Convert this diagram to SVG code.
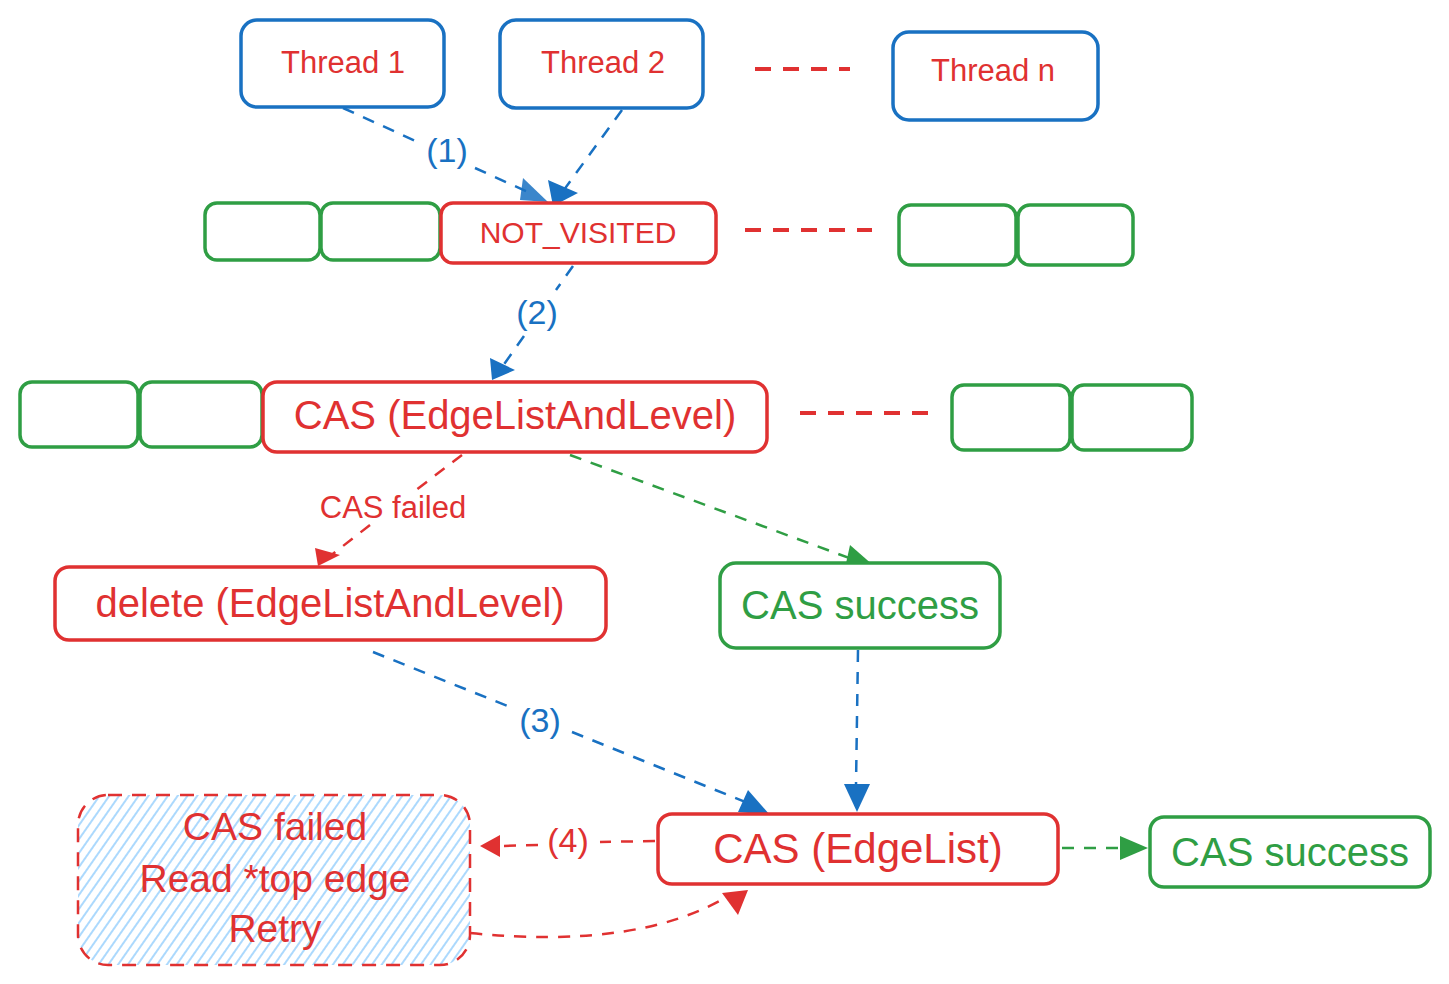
<svg xmlns="http://www.w3.org/2000/svg" width="1449" height="984" viewBox="0 0 1449 984">
<defs>
<style>
.t{font-family:"Liberation Sans","DejaVu Sans",sans-serif;text-anchor:middle;dominant-baseline:central}
.red{fill:#e03131}.grn{fill:#2f9e44}.blu{fill:#1971c2}
.bb{fill:#fff;stroke:#1971c2;stroke-width:3.5}
.rb{fill:#fff;stroke:#e03131;stroke-width:3.5}
.gb{fill:#fff;stroke:#2f9e44;stroke-width:3.5}
.cb{fill:none;stroke:#1971c2;stroke-width:2.5;stroke-dasharray:12 10}
.cr{fill:none;stroke:#e03131;stroke-width:2.5;stroke-dasharray:12 10}
.cg{fill:none;stroke:#2f9e44;stroke-width:2.5;stroke-dasharray:12 10}
.sep{fill:none;stroke:#e03131;stroke-width:4;stroke-dasharray:16 12}
</style>
<pattern id="hatch" width="8" height="8" patternUnits="userSpaceOnUse" patternTransform="rotate(35)">
<line x1="2" y1="0" x2="2" y2="8" stroke="#74c0fc" stroke-width="1.2"/>
</pattern>
</defs>
<rect width="1449" height="984" fill="#fff"/>

<g id="connectors">
<path class="cb" d="M343,108 L420,143 M475,168 L530,193"/>
<path d="M523,178 L548,202 L520,200 z" fill="#1971c2" opacity="0.85"/>
<path class="cb" d="M622,110 L558,198"/>
<path d="M548,180 L578,193 L553,206 z" fill="#1971c2"/>
<path class="cb" d="M573,266 L556,290 M524,336 L500,370"/>
<path d="M490,358 L515,370 L492,380 z" fill="#1971c2"/>
<path class="cr" d="M462,455 L416,490 M370,525 L325,560"/>
<path d="M315,548 L340,555 L318,566 z" fill="#e03131"/>
<path class="cg" d="M570,455 L860,562"/>
<path d="M850,545 L874,566 L845,568 z" fill="#2f9e44"/>
<path class="cb" d="M373,652 L510,707 M572,732 L760,808"/>
<path d="M748,790 L770,815 L738,812 z" fill="#1971c2"/>
<path class="cb" d="M858,650 L856,785"/>
<path d="M844,784 L870,784 L857,812 z" fill="#1971c2"/>
<path class="cr" d="M655,841 L600,842 M538,845 L500,846"/>
<path d="M480,846 L500,835 L500,857 z" fill="#e03131"/>
<path class="cr" d="M470,933 Q640,950 730,895"/>
<path d="M722,893 L748,890 L738,915 z" fill="#e03131"/>
<path class="cg" d="M1062,848 L1125,848"/>
<path d="M1120,836 L1148,848 L1120,860 z" fill="#2f9e44"/>
<path class="sep" d="M755,69 L850,69"/>
<path class="sep" d="M745,230 L872,230"/>
<path class="sep" d="M800,413 L928,413"/>
<text class="t blu" x="447" y="150" font-size="34">(1)</text>
<text class="t blu" x="537" y="312" font-size="34">(2)</text>
<text class="t red" x="393" y="507" font-size="31">CAS failed</text>
<text class="t blu" x="540" y="720" font-size="34">(3)</text>
<text class="t red" x="568" y="840" font-size="34">(4)</text>
</g>

<g id="thread1"><rect class="bb" x="241" y="20" width="203" height="87" rx="16"/><text class="t red" x="343" y="62" font-size="31">Thread 1</text></g>
<g id="thread2"><rect class="bb" x="500" y="20" width="203" height="88" rx="16"/><text class="t red" x="603" y="62" font-size="31">Thread 2</text></g>
<g id="threadn"><rect class="bb" x="893" y="32" width="205" height="88" rx="16"/><text class="t red" x="993" y="70" font-size="31">Thread n</text></g>

<g id="row1-g1"><rect class="gb" x="205" y="203" width="115" height="57" rx="12"/></g>
<g id="row1-g2"><rect class="gb" x="321" y="203" width="119" height="57" rx="12"/></g>
<g id="not-visited"><rect class="rb" x="441" y="203" width="275" height="60" rx="12"/><text class="t red" x="578" y="232" font-size="30">NOT_VISITED</text></g>
<g id="row1-g3"><rect class="gb" x="899" y="205" width="117" height="60" rx="12"/></g>
<g id="row1-g4"><rect class="gb" x="1018" y="205" width="115" height="60" rx="12"/></g>

<g id="row2-g1"><rect class="gb" x="20" y="382" width="118" height="65" rx="12"/></g>
<g id="row2-g2"><rect class="gb" x="140" y="382" width="122" height="65" rx="12"/></g>
<g id="cas-ell"><rect class="rb" x="263" y="382" width="504" height="70" rx="14"/><text class="t red" x="515" y="415" font-size="40">CAS (EdgeListAndLevel)</text></g>
<g id="row2-g3"><rect class="gb" x="952" y="385" width="118" height="65" rx="12"/></g>
<g id="row2-g4"><rect class="gb" x="1072" y="385" width="120" height="65" rx="12"/></g>

<g id="delete"><rect class="rb" x="55" y="567" width="551" height="73" rx="14"/><text class="t red" x="330" y="603" font-size="40">delete (EdgeListAndLevel)</text></g>
<g id="cas-success1"><rect class="gb" x="720" y="563" width="280" height="85" rx="16"/><text class="t grn" x="860" y="605" font-size="40">CAS success</text></g>

<g id="retry"><rect x="78" y="795" width="392" height="170" rx="30" fill="url(#hatch)" stroke="#e03131" stroke-width="2.5" stroke-dasharray="14 10"/>
<text class="t red" x="275" y="826" font-size="39">CAS failed</text>
<text class="t red" x="275" y="878" font-size="39">Read *top edge</text>
<text class="t red" x="275" y="928" font-size="39">Retry</text></g>
<g id="cas-el"><rect class="rb" x="658" y="814" width="400" height="70" rx="14"/><text class="t red" x="858" y="848" font-size="42">CAS (EdgeList)</text></g>
<g id="cas-success2"><rect class="gb" x="1150" y="817" width="280" height="70" rx="14"/><text class="t grn" x="1290" y="852" font-size="40">CAS success</text></g>
</svg>
